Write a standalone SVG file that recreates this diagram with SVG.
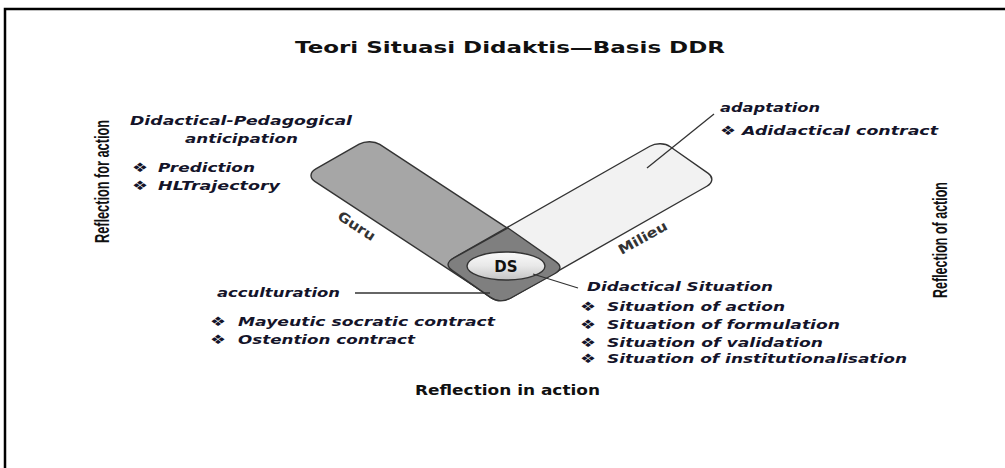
<svg xmlns="http://www.w3.org/2000/svg" width="1005" height="468" viewBox="0 0 1005 468">
<defs>
<linearGradient id="dsg" x1="0" y1="0" x2="0" y2="1">
<stop offset="0" stop-color="#fafafa"/>
<stop offset="0.5" stop-color="#e8e8e8"/>
<stop offset="1" stop-color="#c4c4c4"/>
</linearGradient>
<style>
.shape{stroke:#333;stroke-width:1.4;vector-effect:non-scaling-stroke}
.lab{font-family:"DejaVu Sans",Verdana,sans-serif;font-weight:bold;font-style:italic;font-size:13px;fill:#14142a}
.bul{font-family:"DejaVu Sans",sans-serif;font-size:13px;fill:#14142a}
.hd{font-family:"DejaVu Sans",Verdana,sans-serif;font-weight:bold;fill:#111}
.vt{font-family:"Liberation Sans",Arial,sans-serif;font-weight:bold;font-size:20px;fill:#111}
.bar{font-family:"DejaVu Sans",sans-serif;font-weight:bold;font-size:13.5px;fill:#333}
.ln{stroke:#333;stroke-width:1.3;fill:none}
</style>
</defs>
<rect width="1005" height="468" fill="#fff"/>
<path d="M5,468 V9 H1005" fill="none" stroke="#000" stroke-width="2.5"/>

<text class="hd" x="295" y="53" font-size="16.5" textLength="430" lengthAdjust="spacingAndGlyphs">Teori Situasi Didaktis—Basis DDR</text>

<g id="guru">
<rect class="shape" x="0" y="0" width="100" height="30" rx="5" ry="5" fill="#a6a6a6" transform="matrix(1.95,1.28,-2.1667,1.2333,370,138)"/>
<text class="bar" transform="translate(354,230) rotate(33)" text-anchor="middle" textLength="42" lengthAdjust="spacingAndGlyphs">Guru</text>
</g>
<g id="milieu">
<rect class="shape" x="0" y="0" width="100" height="30" rx="5" ry="5" fill="#f2f2f2" transform="matrix(2.1775,-1.2395,1.9,1.3333,443,264)"/>
<text class="bar" transform="translate(645,242) rotate(-29)" text-anchor="middle" textLength="54" lengthAdjust="spacingAndGlyphs">Milieu</text>
</g>
<g id="ds">
<path class="shape" fill="#7f7f7f" transform="matrix(2.1667,-1.2,1.9,1.3333,443,264)" d="M5,0 L30,0 L30,25 Q30,30 25,30 L5,30 Q0,30 0,25 L0,5 Q0,0 5,0 Z"/>
<ellipse class="shape" cx="506" cy="266" rx="39" ry="14" fill="url(#dsg)"/>
<text class="hd" x="506" y="272" font-size="15" text-anchor="middle" fill="#333">DS</text>
</g>

<g id="connectors">
<line class="ln" x1="714" y1="114" x2="647" y2="168"/>
<line class="ln" x1="355" y1="293" x2="490" y2="293"/>
<line class="ln" x1="533" y1="274" x2="578" y2="288"/>
</g>

<g id="anticipation">
<text class="lab" x="130" y="125" textLength="222" lengthAdjust="spacingAndGlyphs">Didactical-Pedagogical</text>
<text class="lab" x="185" y="143" textLength="113" lengthAdjust="spacingAndGlyphs">anticipation</text>
<text class="bul" x="132" y="172" textLength="16" lengthAdjust="spacingAndGlyphs">❖</text>
<text class="lab" x="158" y="172" textLength="97" lengthAdjust="spacingAndGlyphs">Prediction</text>
<text class="bul" x="132" y="190" textLength="16" lengthAdjust="spacingAndGlyphs">❖</text>
<text class="lab" x="158" y="190" textLength="122" lengthAdjust="spacingAndGlyphs">HLTrajectory</text>
</g>

<g id="adaptation">
<text class="lab" x="720" y="112" textLength="100" lengthAdjust="spacingAndGlyphs">adaptation</text>
<text class="bul" x="720" y="135" textLength="16" lengthAdjust="spacingAndGlyphs">❖</text>
<text class="lab" x="742" y="135" textLength="196" lengthAdjust="spacingAndGlyphs">Adidactical contract</text>
</g>

<g id="acculturation">
<text class="lab" x="217" y="297" textLength="123" lengthAdjust="spacingAndGlyphs">acculturation</text>
<text class="bul" x="210" y="326" textLength="16" lengthAdjust="spacingAndGlyphs">❖</text>
<text class="lab" x="238" y="326" textLength="257" lengthAdjust="spacingAndGlyphs">Mayeutic socratic contract</text>
<text class="bul" x="210" y="344" textLength="16" lengthAdjust="spacingAndGlyphs">❖</text>
<text class="lab" x="238" y="344" textLength="177" lengthAdjust="spacingAndGlyphs">Ostention contract</text>
</g>

<g id="situation">
<text class="lab" x="587" y="291" textLength="186" lengthAdjust="spacingAndGlyphs">Didactical Situation</text>
<text class="bul" x="580" y="311" textLength="16" lengthAdjust="spacingAndGlyphs">❖</text>
<text class="lab" x="607" y="311" textLength="178" lengthAdjust="spacingAndGlyphs">Situation of action</text>
<text class="bul" x="580" y="329" textLength="16" lengthAdjust="spacingAndGlyphs">❖</text>
<text class="lab" x="607" y="329" textLength="233" lengthAdjust="spacingAndGlyphs">Situation of formulation</text>
<text class="bul" x="580" y="347" textLength="16" lengthAdjust="spacingAndGlyphs">❖</text>
<text class="lab" x="607" y="347" textLength="216" lengthAdjust="spacingAndGlyphs">Situation of validation</text>
<text class="bul" x="580" y="363" textLength="16" lengthAdjust="spacingAndGlyphs">❖</text>
<text class="lab" x="607" y="363" textLength="300" lengthAdjust="spacingAndGlyphs">Situation of institutionalisation</text>
</g>

<g id="reflections">
<text class="vt" transform="translate(109,243) rotate(-90)" textLength="123" lengthAdjust="spacingAndGlyphs">Reflection for action</text>
<text class="vt" transform="translate(947,298) rotate(-90)" textLength="116" lengthAdjust="spacingAndGlyphs">Reflection of action</text>
<text class="hd" x="415" y="395" font-size="13.5" textLength="185" lengthAdjust="spacingAndGlyphs">Reflection in action</text>
</g>
</svg>
